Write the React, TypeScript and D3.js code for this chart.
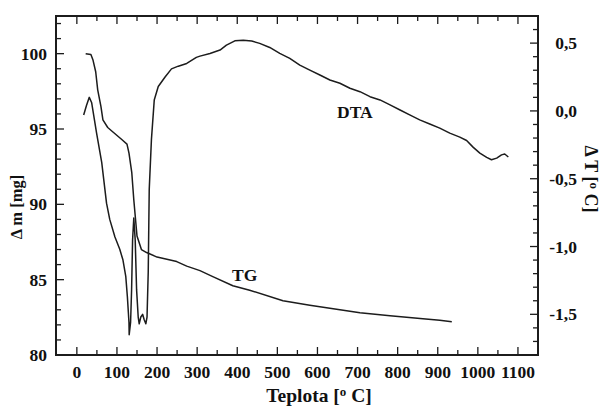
import React from 'react';
import * as d3 from 'd3';

// TG curve: temperature [°C] and mass [mg]
const tgTemp = [22, 35, 40, 47, 52, 60, 65, 77, 90, 112, 125, 130, 137, 142, 150, 161, 174, 200, 249, 274, 307, 339, 389, 431, 514, 581, 656, 706, 781, 863, 905, 935];
const tgMass = [100.0, 99.95, 99.6, 98.8, 97.6, 96.5, 95.6, 95.1, 94.8, 94.3, 94.0, 93.4, 92.1, 90.3, 87.9, 87.0, 86.8, 86.5, 86.2, 85.9, 85.6, 85.2, 84.6, 84.3, 83.6, 83.3, 83.0, 82.8, 82.6, 82.4, 82.3, 82.2];

// DTA curve: temperature [°C] and delta T [°C]
const dtaTemp = [17, 24, 31, 37, 49, 62, 74, 82, 95, 107, 115, 122, 126, 130, 130.5, 134, 136.5, 139, 142, 145.5, 149, 153, 155.5, 159.5, 164, 168, 172, 175, 178, 179.5, 180.5, 186, 193, 203, 220, 236, 253, 274, 298, 307, 332, 357, 373, 394, 415, 436, 456, 481, 506, 531, 556, 581, 606, 631, 656, 681, 706, 731, 756, 781, 806, 830, 855, 880, 905, 930, 955, 972, 988, 1005, 1022, 1034, 1047, 1059, 1067, 1076];
const dtaDelta = [-0.03, 0.04, 0.1, 0.06, -0.16, -0.38, -0.68, -0.8, -0.93, -1.02, -1.1, -1.22, -1.37, -1.56, -1.65, -1.56, -1.32, -0.95, -0.79, -0.95, -1.32, -1.52, -1.57, -1.52, -1.5, -1.54, -1.57, -1.52, -1.19, -0.82, -0.58, -0.21, 0.08, 0.18, 0.25, 0.31, 0.33, 0.35, 0.395, 0.404, 0.424, 0.449, 0.485, 0.517, 0.522, 0.515, 0.498, 0.468, 0.424, 0.388, 0.338, 0.301, 0.265, 0.228, 0.204, 0.167, 0.142, 0.105, 0.081, 0.044, 0.007, -0.029, -0.066, -0.096, -0.127, -0.164, -0.193, -0.218, -0.267, -0.311, -0.343, -0.36, -0.348, -0.324, -0.318, -0.34];

const xTicks = [0, 100, 200, 300, 400, 500, 600, 700, 800, 900, 1000, 1100];
const leftTicks = [80, 85, 90, 95, 100];
const rightTicks = [0.5, 0, -0.5, -1.0, -1.5];

const W = 604;
const H = 407;
const L = 56, R = 538, T = 16, B = 355;
const font = '"Liberation Serif", "Times New Roman", serif';
const ink = '#1c1c1c';

export default function App() {
  const x = d3.scaleLinear().domain([-52, 1150]).range([L, R]);
  const yL = d3.scaleLinear().domain([80, 102.5]).range([B, T]);
  const yR = d3.scaleLinear().domain([-1.8, 0.7]).range([B, T]);

  const tgLine = d3.line<number>()
    .x((d, i) => x(tgTemp[i]))
    .y(d => yL(d));
  const dtaLine = d3.line<number>()
    .x((d, i) => x(dtaTemp[i]))
    .y(d => yR(d));

  // minor ticks
  const xMinor = d3.range(0, 1101, 50);
  const lMinor = d3.range(80, 102.6, 1);
  const rMinor = d3.range(-18, 8, 1).map(v => v / 10);

  const fmtR = (v: number) => d3.format('.1f')(v).replace('.', ',').replace('−', '-');

  return (
    <div style={{ position: 'absolute', left: 0, top: 0 }}>
      <svg width={W} height={H} style={{ display: 'block', background: '#fff' }}>
        <g stroke={ink} strokeWidth={1.3}>
          {xMinor.map(v => {
            const len = v % 100 === 0 ? 8 : 5;
            return (
              <g key={'x' + v}>
                <line x1={x(v)} x2={x(v)} y1={B} y2={B - len} />
                <line x1={x(v)} x2={x(v)} y1={T} y2={T + len} />
              </g>
            );
          })}
          {lMinor.map(v => (
            <line key={'l' + v} x1={L} x2={L + (v % 5 === 0 ? 8 : 5)} y1={yL(v)} y2={yL(v)} />
          ))}
          {rMinor.map(v => (
            <line key={'r' + v} x1={R} x2={R - (Math.round(v * 10) % 5 === 0 ? 8 : 5)} y1={yR(v)} y2={yR(v)} />
          ))}
        </g>
        <rect x={L} y={T} width={R - L} height={B - T} fill="none" stroke={ink} strokeWidth={2} />

        <path d={tgLine(tgMass) || ''} fill="none" stroke={ink} strokeWidth={1.5} strokeLinejoin="round" />
        <path d={dtaLine(dtaDelta) || ''} fill="none" stroke={ink} strokeWidth={1.5} strokeLinejoin="round" />

        <g fontFamily={font} fontWeight="bold" fontSize={17.5} fill="#111">
          {xTicks.map(v => (
            <text key={'xt' + v} x={x(v)} y={378} textAnchor="middle">{v}</text>
          ))}
          {leftTicks.map(v => (
            <text key={'lt' + v} x={47} y={yL(v)} dy="0.35em" textAnchor="end">{v}</text>
          ))}
          {rightTicks.map(v => (
            <text key={'rt' + v} x={577} y={yR(v)} dy="0.35em" textAnchor="end">{fmtR(v)}</text>
          ))}
          <text x={337} y={118}>DTA</text>
          <text x={232} y={281}>TG</text>
        </g>

        <g fontFamily={font} fontWeight="bold" fill="#111">
          <text x={319} y={402} textAnchor="middle" fontSize={19.5}>
            Teplota [<tspan fontSize={13} dy={-6}>o</tspan><tspan dy={6}> C]</tspan>
          </text>
          <text transform="translate(22,207) rotate(-90)" textAnchor="middle" fontSize={16.5}>
            Δ m [mg]
          </text>
          <text transform="translate(585,179) rotate(90)" textAnchor="middle" fontSize={18}>
            Δ T [<tspan fontSize={13} dy={-5}>o</tspan><tspan dy={5}> C]</tspan>
          </text>
        </g>
      </svg>
    </div>
  );
}
